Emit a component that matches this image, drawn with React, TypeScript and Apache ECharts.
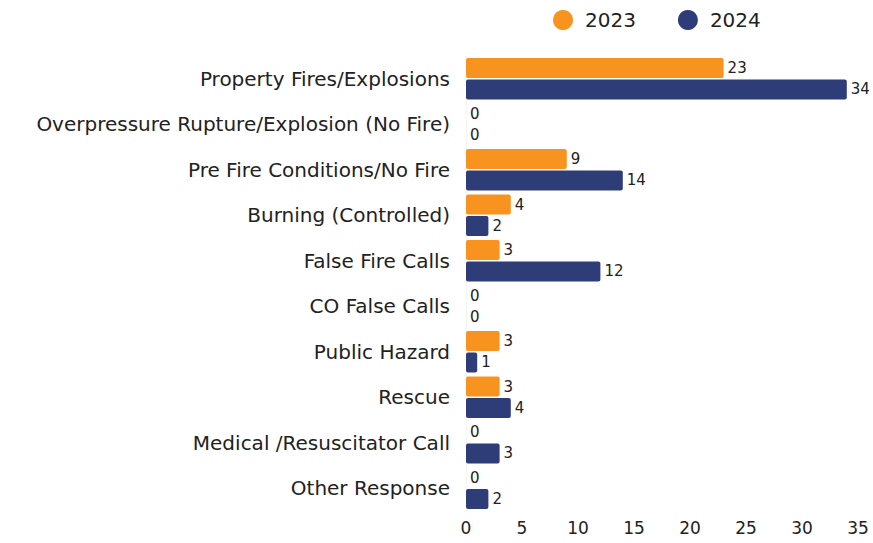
import React, { useEffect, useRef } from "react";
import * as echarts from "echarts";

const categories = [
  "Property Fires/Explosions",
  "Overpressure Rupture/Explosion (No Fire)",
  "Pre Fire Conditions/No Fire",
  "Burning (Controlled)",
  "False Fire Calls",
  "CO False Calls",
  "Public Hazard",
  "Rescue",
  "Medical /Resuscitator Call",
  "Other Response",
];
const values2023 = [23, 0, 9, 4, 3, 0, 3, 3, 0, 0];
const values2024 = [34, 0, 14, 2, 12, 0, 1, 4, 3, 2];
const seriesNames = ["2023", "2024"];
const colors = ["#F7931E", "#2E3D78"];

const FONT = "DejaVu Sans";

export default function App() {
  const ref = useRef<HTMLDivElement>(null);
  useEffect(() => {
    document.body.style.margin = "0";
    if (!ref.current) return;
    const chart = echarts.init(ref.current, null, { renderer: "svg" });
    const mk = (name: string, data: number[], color: string) => ({
      name,
      type: "bar",
      data,
      barGap: "7%",
      barCategoryGap: "9%",
      itemStyle: { color, borderRadius: 2 },
      label: {
        show: true,
        position: "right",
        distance: 4,
        color: "#222",
        fontFamily: FONT,
        fontSize: 15,
      },
    });
    chart.setOption({
      animation: false,
      legend: {
        top: 5,
        left: 548,
        itemWidth: 20,
        itemHeight: 20,
        itemGap: 42,
        icon: "circle",
        textStyle: { fontFamily: FONT, fontSize: 20, color: "#222", padding: [0, 0, 0, 7] },
        data: seriesNames,
      },
      grid: { left: 466, right: 15, top: 56, height: 455, containLabel: false },
      xAxis: {
        type: "value",
        min: 0,
        max: 35,
        interval: 5,
        splitLine: { show: false },
        axisLine: { show: false },
        axisTick: { show: false },
        axisLabel: { color: "#222", fontFamily: FONT, fontSize: 17, margin: 8 },
      },
      yAxis: {
        type: "category",
        inverse: true,
        data: categories,
        axisLine: { show: true, lineStyle: { color: "#f4f4f4" } },
        axisTick: { show: false },
        axisLabel: { color: "#222", fontFamily: FONT, fontSize: 20, margin: 16 },
      },
      series: [
        mk(seriesNames[0], values2023, colors[0]),
        mk(seriesNames[1], values2024, colors[1]),
      ],
    });
    return () => chart.dispose();
  }, []);
  return <div ref={ref} style={{ width: 873, height: 543 }} />;
}
